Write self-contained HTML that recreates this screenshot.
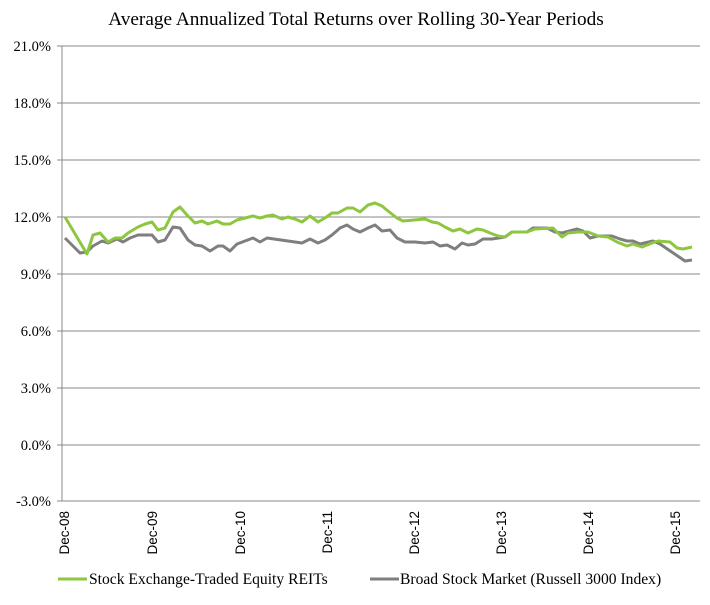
<!DOCTYPE html>
<html><head><meta charset="utf-8"><style>body{margin:0;background:#fff}</style></head>
<body>
<svg width="710" height="600" xmlns="http://www.w3.org/2000/svg">
<rect width="710" height="600" fill="#fff"/>
<text x="356" y="25" text-anchor="middle" font-family="Liberation Serif, serif" font-size="19.3" fill="#000">Average Annualized Total Returns over Rolling 30-Year Periods</text>
<g stroke="#888" stroke-width="1">
<line x1="57" y1="46" x2="700" y2="46"/>
<line x1="57" y1="103" x2="700" y2="103"/>
<line x1="57" y1="160" x2="700" y2="160"/>
<line x1="57" y1="217" x2="700" y2="217"/>
<line x1="57" y1="274" x2="700" y2="274"/>
<line x1="57" y1="331" x2="700" y2="331"/>
<line x1="57" y1="388" x2="700" y2="388"/>
<line x1="57" y1="445" x2="700" y2="445"/>
<line x1="57" y1="501" x2="700" y2="501"/>
<line x1="62" y1="46" x2="62" y2="501"/>
</g>
<g font-family="Liberation Serif, serif" font-size="14.5" text-anchor="end" fill="#000">
<text x="51" y="51">21.0%</text><text x="51" y="108">18.0%</text><text x="51" y="165">15.0%</text>
<text x="51" y="222">12.0%</text><text x="51" y="279">9.0%</text><text x="51" y="336">6.0%</text>
<text x="51" y="393">3.0%</text><text x="51" y="450">0.0%</text><text x="51" y="506">-3.0%</text>
</g>
<g font-family="Liberation Sans, sans-serif" font-size="13.5" text-anchor="end" fill="#000">
<text transform="translate(69,511) rotate(-90)">Dec-08</text>
<text transform="translate(157,511) rotate(-90)">Dec-09</text>
<text transform="translate(245,511) rotate(-90)">Dec-10</text>
<text transform="translate(332,511) rotate(-90)">Dec-11</text>
<text transform="translate(419,511) rotate(-90)">Dec-12</text>
<text transform="translate(506,511) rotate(-90)">Dec-13</text>
<text transform="translate(593,511) rotate(-90)">Dec-14</text>
<text transform="translate(680,511) rotate(-90)">Dec-15</text>
</g>
<polyline fill="none" stroke="#7f7f7f" stroke-width="3" stroke-linejoin="round" points="65,238 80,253 87,252 93,246 102,241 108,243 117,239 123,242 130,238 138,235 152,235 158,242 165,240 173,227 180,228 188,240 195,245 202,246 210,251 218,246 223,246 230,251 237,244 245,241 253,238 260,242 267,238 302,243 310,239 318,243 325,240 332,235 340,228 347,225 353,229 360,232 368,228 375,225 382,231 390,230 397,238 405,242 415,242 425,243 433,242 440,246 447,245 455,249 462,243 468,245 475,244 483,239 492,239 505,237 512,232 527,232 533,228 547,228 555,232 562,233 577,229 583,231 590,238 598,236 612,236 620,239 627,241 633,241 640,244 653,241 660,244 685,261 692,260"/>
<polyline fill="none" stroke="#8dc63f" stroke-width="3" stroke-linejoin="round" points="65,217 87,254 93,235 100,233 108,242 115,238 122,238 128,233 138,227 145,224 152,222 158,230 165,228 173,212 180,207 187,215 195,223 202,221 208,224 217,221 223,224 230,224 237,220 245,218 253,216 260,218 267,216 273,215 282,219 288,217 295,219 302,222 310,216 318,222 325,218 332,213 338,213 347,208 353,208 360,212 368,205 375,203 382,206 388,211 397,218 403,221 425,219 432,222 438,223 445,227 453,231 460,229 468,233 477,229 483,230 490,233 498,236 505,237 512,232 527,232 535,229 553,228 562,237 568,233 578,232 588,232 598,236 608,237 617,242 627,246 633,244 642,247 652,243 658,241 670,242 677,248 683,249 692,247"/>
<line x1="58" y1="579" x2="87" y2="579" stroke="#8dc63f" stroke-width="3"/>
<line x1="370" y1="579" x2="399" y2="579" stroke="#7f7f7f" stroke-width="3"/>
<g font-family="Liberation Serif, serif" font-size="15.6" fill="#000">
<text x="89" y="584">Stock Exchange-Traded Equity REITs</text>
<text x="400" y="584">Broad Stock Market (Russell 3000 Index)</text>
</g>
</svg>
</body></html>
